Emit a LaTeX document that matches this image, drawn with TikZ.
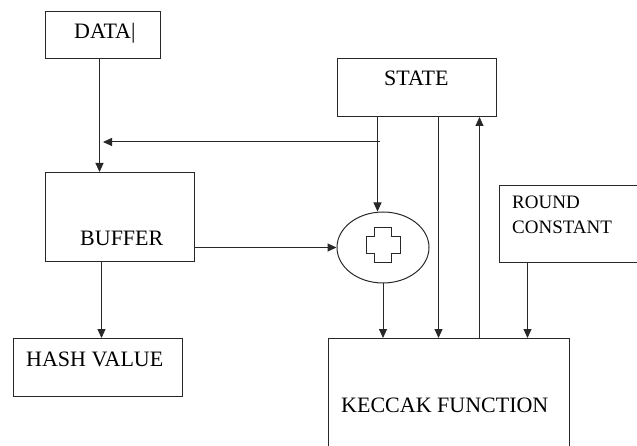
\documentclass[tikz,border=0pt]{standalone}
\usepackage{fontspec}
\setmainfont{Liberation Serif}
\usetikzlibrary{shapes.geometric,arrows.meta}
\definecolor{linegray}{RGB}{40,40,40}
\tikzset{
  blockbox/.style={rectangle,draw=linegray,line width=1pt,anchor=north west,
    inner sep=0pt},
  blocktext/.style={anchor=base west,inner sep=0pt,
    font=\fontsize{22}{25}\selectfont},
  smalltext/.style={anchor=base west,inner sep=0pt,
    font=\fontsize{19}{25}\selectfont},
  darrow/.style={-{Triangle[length=9pt,width=8pt]},line width=1pt,color=linegray},
  plainline/.style={line width=1pt,color=linegray}
}

\begin{document}
\begin{tikzpicture}[x=1pt,y=-1pt]
  \useasboundingbox (0,0) rectangle (637,446);
  \clip (0,0) rectangle (637,446);

  % Boxes
  \node[blockbox,minimum width=115pt,minimum height=47pt] (data) at (45,11) {};
  \node[blockbox,minimum width=149pt,minimum height=89pt] (buffer) at (45,172) {};
  \node[blockbox,minimum width=169pt,minimum height=58pt] (hash) at (13,338) {};
  \node[blockbox,minimum width=159pt,minimum height=58pt] (state) at (337,58) {};
  \node[blockbox,minimum width=145pt,minimum height=77pt] (rc) at (499,185) {};
  \node[blockbox,minimum width=241pt,minimum height=130pt] (keccak) at (328,338) {};
  \node[ellipse,draw=linegray,line width=1pt,minimum width=92pt,
    minimum height=71pt,inner sep=0pt] (xor) at (383,247.5) {};

  % Labels
  \node[blocktext] (datatxt) at (74,39) {DATA|};
  \node[blocktext] (statetxt) at (384,86) {STATE};
  \node[blocktext] (buftxt) at (80,246) {BUFFER};
  \node[blocktext] (hashtxt) at (26,366) {HASH VALUE};
  \node[blocktext] (keccaktxt) at (341,412.7) {KECCAK FUNCTION};
  \node[smalltext] (rctxt1) at (512,209) {ROUND};
  \node[smalltext] (rctxt2) at (512,234) {CONSTANT};

  % Plus sign in the ellipse
  \draw[plainline,line width=0.8pt] (374,227) -- (391,227) -- (391,236)
    -- (400,236) -- (400,253) -- (391,253) -- (391,262) -- (374,262)
    -- (374,253) -- (366,253) -- (366,236) -- (374,236) -- cycle;

  % Connector columns
  \coordinate (dcol) at ([xshift=-3.5pt]data.south);
  \coordinate (bcol) at ([xshift=-18.5pt]buffer.south);
  \coordinate (s1) at ([xshift=-39.5pt]state.south);
  \coordinate (s2) at ([xshift=21.5pt]state.south);
  \coordinate (s3) at ([xshift=62.5pt]state.south);
  \coordinate (rcol) at ([xshift=-44.5pt]rc.south);
  \coordinate (tap) at (380,142);

  % Arrows
  \draw[darrow] (dcol) -- (dcol |- buffer.north);
  \draw[darrow] (bcol) -- (bcol |- hash.north);
  \draw[darrow] (s1) -- (s1 |- xor.north);
  \draw[darrow] (tap) -- (tap -| data.south);
  \draw[darrow] (buffer.east |- xor.west) -- (xor.west);
  \draw[darrow] (xor.south) -- (xor.south |- keccak.north);
  \draw[darrow] (s2) -- (s2 |- keccak.north);
  \draw[darrow] (s3 |- keccak.north) -- (s3);
  \draw[darrow] (rcol) -- (rcol |- keccak.north);
\end{tikzpicture}
\end{document}
